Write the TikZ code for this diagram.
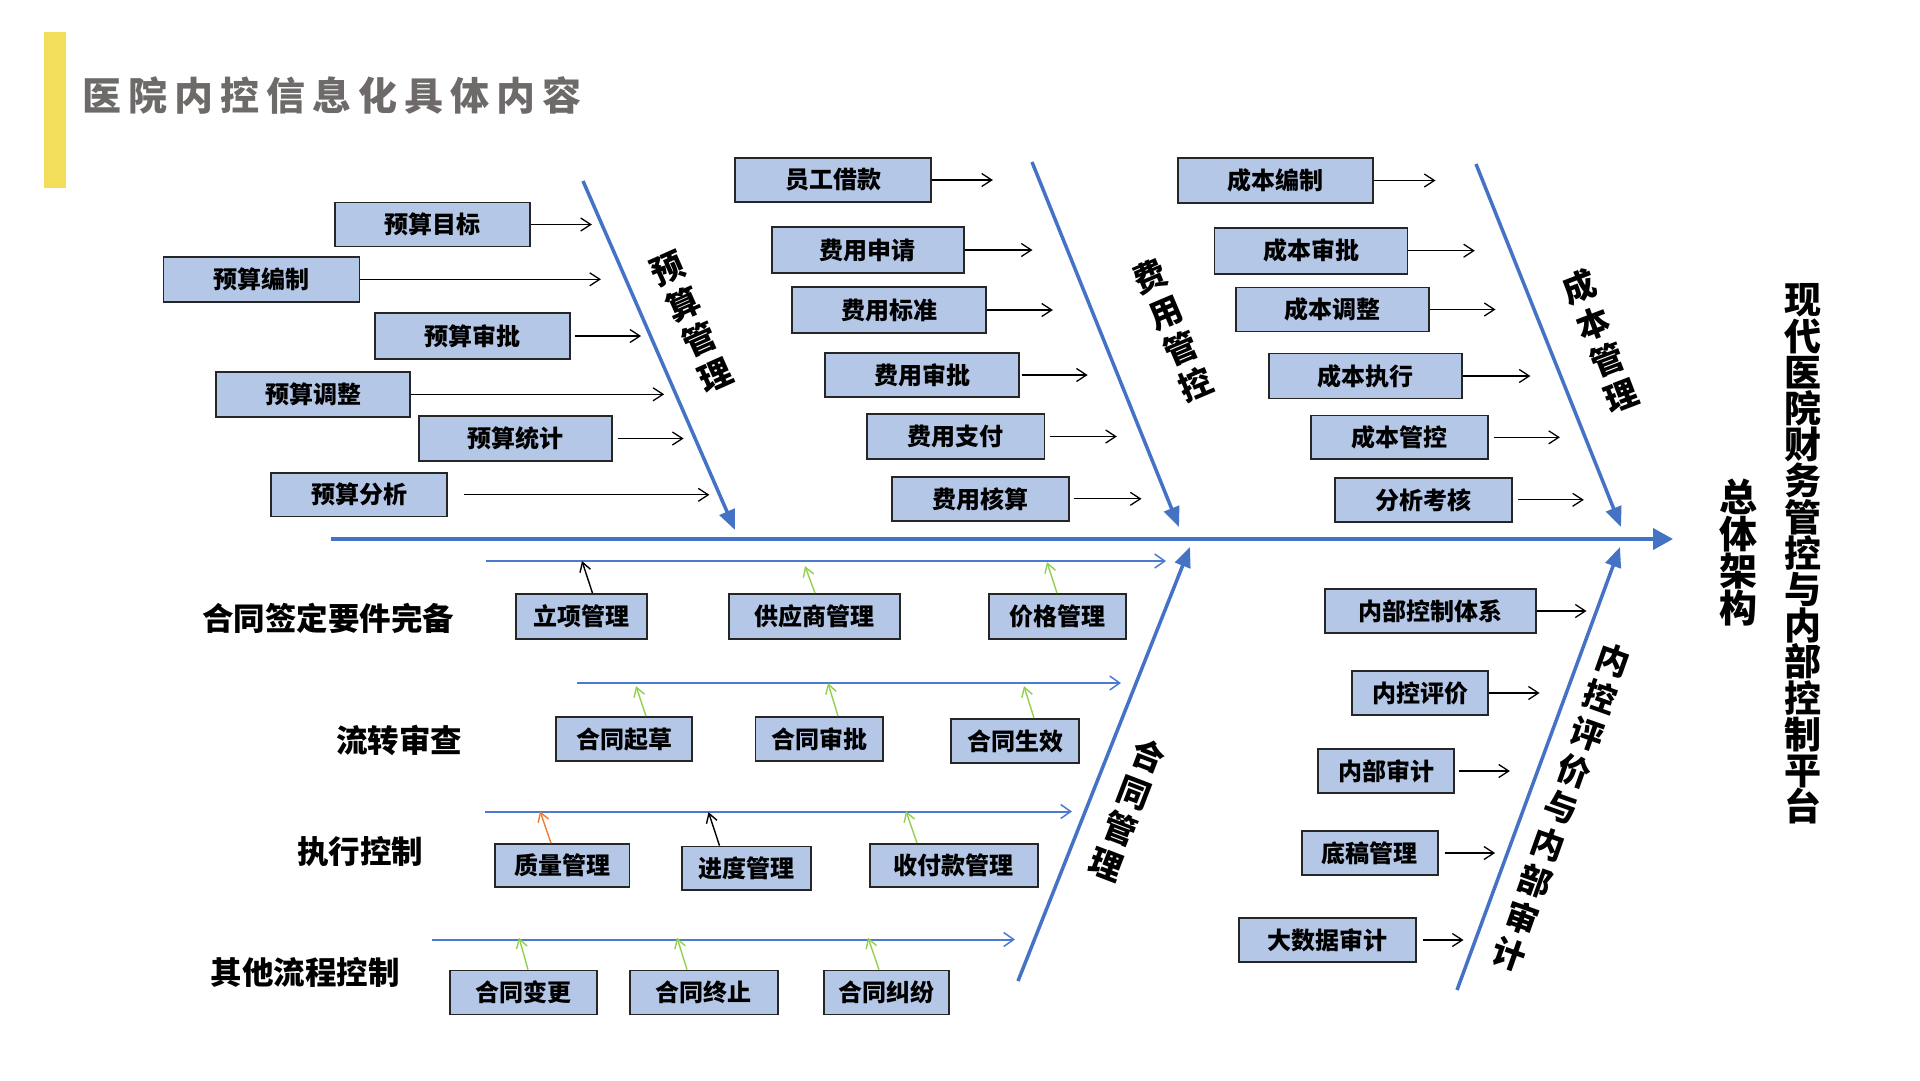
\documentclass[tikz,border=0pt]{standalone}
\usepackage{fontspec}
\setmainfont{Noto Sans CJK SC}
\usetikzlibrary{arrows.meta}
\definecolor{boxfill}{HTML}{B4C7E7}
\definecolor{boxline}{HTML}{262626}
\definecolor{bone}{HTML}{4472C4}
\definecolor{rowblue}{HTML}{4A7BD0}
\definecolor{ugreen}{HTML}{92D050}
\definecolor{uorange}{HTML}{ED7D31}
\definecolor{titlegray}{HTML}{6E6A6A}
\definecolor{barYellow}{HTML}{F2DE5A}
\tikzset{
  box/.style={draw=boxline, fill=boxfill, line width=1.8pt, inner sep=0pt,
    font=\bfseries\fontsize{24}{28}\selectfont},
  bonearrow/.style={draw=bone, line width=3.5pt, -{Triangle[length=20pt,width=16pt]}},
  spinearrow/.style={draw=bone, line width=4pt, -{Triangle[length=20pt,width=21pt]}},
  harrow/.style={draw=black, line width=1.3pt, -{Straight Barb[length=10pt,width=13pt,line width=1.3pt]}},
  rowarrow/.style={draw=rowblue, line width=2pt, -{Straight Barb[length=10pt,width=14pt,line width=1.5pt]}},
  uarrow/.style={line width=1.4pt, -{Straight Barb[length=9pt,width=11pt,line width=1.4pt]}},
  bonetext/.style={font=\bfseries\fontsize{33}{39}\selectfont, align=center, inner sep=0pt},
  rowlabel/.style={font=\bfseries\fontsize{31.5}{36}\selectfont, inner sep=0pt},
}
\newcommand\mybox[6]{\node[box, minimum width=#4pt, minimum height=#5pt] (#1) at (#2,#3) {#6};}
\newcommand\rarr[3]{\draw[harrow] ([xshift=#2pt]#1.east) -- ++(#3,0);}
\newcommand\uarr[5]{\draw[uarrow,draw=#1] ([xshift=#3pt]#2.north) -- ++(#4,#5);}
\begin{document}
\begin{tikzpicture}[x=1pt,y=-1pt]
\useasboundingbox (0,0) rectangle (1920,1080);
\fill[white] (0,0) rectangle (1920,1080);

% title
\fill[barYellow] (44,32) rectangle (65.5,188);
\node[anchor=west, inner sep=0pt, text=titlegray, font=\bfseries\fontsize{39}{44}\selectfont] (title) at (82,95)
  {医\kern7pt 院\kern7pt 内\kern7pt 控\kern7pt 信\kern7pt 息\kern7pt 化\kern7pt 具\kern7pt 体\kern7pt 内\kern7pt 容};

% spine and bones
\coordinate (sps) at (331,539);
\coordinate (spe) at (1673,539);
\draw[spinearrow] (sps) -- (spe);
\coordinate (b1s) at (583,181);  \coordinate (b1e) at (735,530);
\coordinate (b2s) at (1032,162); \coordinate (b2e) at (1179,527);
\coordinate (b3s) at (1476,164); \coordinate (b3e) at (1621,527);
\coordinate (b4s) at (1018,981); \coordinate (b4e) at (1190,547);
\coordinate (b5s) at (1457,990); \coordinate (b5e) at (1620,547);
\draw[bonearrow] (b1s) -- (b1e);
\draw[bonearrow] (b2s) -- (b2e);
\draw[bonearrow] (b3s) -- (b3e);
\draw[bonearrow] (b4s) -- (b4e);
\draw[bonearrow] (b5s) -- (b5e);

% bone labels
\node[bonetext, rotate=24] (t1) at (691.5,322) {预\\算\\管\\理};
\node[bonetext, rotate=23] (t2) at (1173,330) {费\\用\\管\\控};
\node[bonetext, rotate=21] (t3) at (1600,341) {成\\本\\管\\理};
\node[bonetext, rotate=-21] (t4) at (1127.5,810) {合\\同\\管\\理};
\node[bonetext, rotate=-19.5] (t5) at (1561.5,807.5) {内\\控\\评\\价\\与\\内\\部\\审\\计};

% right titles
\node[font=\bfseries\fontsize{38}{37}\selectfont, align=center, inner sep=0pt] (arch) at (1738,552.5) {总\\体\\架\\构};
\node[font=\bfseries\fontsize{37}{36.2}\selectfont, align=center, inner sep=0pt] (plat) at (1803,554) {现\\代\\医\\院\\财\\务\\管\\控\\与\\内\\部\\控\\制\\平\\台};

% budget column
\mybox{a1}{432.5}{224.5}{195}{44}{预算目标}
\mybox{a2}{261.5}{279.3}{196}{44.6}{预算编制}
\mybox{a3}{472.7}{336}{195}{46}{预算审批}
\mybox{a4}{313}{394.3}{194}{44.7}{预算调整}
\mybox{a5}{515.5}{438.5}{193}{45}{预算统计}
\mybox{a6}{359}{494.8}{176}{43.5}{预算分析}
\rarr{a1}{0}{61}
\rarr{a2}{0}{240.5}
\rarr{a3}{4}{66}
\rarr{a4}{0}{253.3}
\rarr{a5}{4.7}{66}
\rarr{a6}{16}{245.5}

% expense column
\mybox{e1}{833}{180}{196}{44.5}{员工借款}
\mybox{e2}{867.6}{250}{192}{46}{费用申请}
\mybox{e3}{889}{310}{194}{45.6}{费用标准}
\mybox{e4}{922}{375}{193.5}{44.7}{费用审批}
\mybox{e5}{955.7}{436.5}{177.5}{45}{费用支付}
\mybox{e6}{980.3}{498.8}{177.4}{43.6}{费用核算}
\rarr{e1}{0}{61}
\rarr{e2}{0}{68}
\rarr{e3}{0}{66}
\rarr{e4}{2}{66}
\rarr{e5}{4.5}{67}
\rarr{e6}{4}{67.6}

% cost column
\mybox{c1}{1275.5}{180.5}{195}{45}{成本编制}
\mybox{c2}{1311}{250.7}{193}{46}{成本审批}
\mybox{c3}{1332.3}{309.5}{193.4}{44}{成本调整}
\mybox{c4}{1365.5}{376}{193}{45}{成本执行}
\mybox{c5}{1399.5}{437.3}{177}{43.5}{成本管控}
\mybox{c6}{1423.4}{499.8}{177}{43.7}{分析考核}
\rarr{c1}{0}{61.6}
\rarr{c2}{0}{66.4}
\rarr{c3}{0}{65.6}
\rarr{c4}{0}{67.5}
\rarr{c5}{5}{66}
\rarr{c6}{5}{66}

% internal control column
\mybox{i1}{1430.3}{611}{210.6}{44}{内部控制体系}
\mybox{i2}{1420}{693}{136}{44}{内控评价}
\mybox{i3}{1386}{771}{136}{44.4}{内部审计}
\mybox{i4}{1369.6}{853}{136}{44}{底稿管理}
\mybox{i5}{1327.3}{940}{176.6}{44}{大数据审计}
\rarr{i1}{0}{50}
\rarr{i2}{0}{50.7}
\rarr{i3}{4}{51}
\rarr{i4}{6}{50.6}
\rarr{i5}{6}{41}

% contract rows
\node[rowlabel] (l1) at (328,618) {合同签定要件完备};
\node[rowlabel] (l2) at (399,740) {流转审查};
\node[rowlabel] (l3) at (360,852) {执行控制};
\node[rowlabel] (l4) at (305,972) {其他流程控制};

\coordinate (r1s) at (486,561);   \coordinate (r1e) at (1166,561);
\coordinate (r2s) at (577,683);   \coordinate (r2e) at (1121,683);
\coordinate (r3s) at (485,811.5); \coordinate (r3e) at (1072,811.5);
\coordinate (r4s) at (431.7,939.5); \coordinate (r4e) at (1015,939.5);
\draw[rowarrow] (r1s) -- (r1e);
\draw[rowarrow] (r2s) -- (r2e);
\draw[rowarrow] (r3s) -- (r3e);
\draw[rowarrow] (r4s) -- (r4e);

\mybox{k1}{581.5}{616.5}{131}{45}{立项管理}
\mybox{k2}{814.5}{616.5}{171}{45}{供应商管理}
\mybox{k3}{1057.5}{616.5}{137}{45}{价格管理}
\mybox{k4}{624}{739}{136}{44}{合同起草}
\mybox{k5}{819.3}{739}{127.5}{44}{合同审批}
\mybox{k6}{1015}{741}{128}{44}{合同生效}
\mybox{k7}{562.3}{865.5}{134.5}{43}{质量管理}
\mybox{k8}{746.3}{868.3}{129.4}{43.5}{进度管理}
\mybox{k9}{953.8}{865.5}{168.4}{43}{收付款管理}
\mybox{k10}{523.5}{992.5}{147}{44}{合同变更}
\mybox{k11}{703.6}{992.5}{148}{44}{合同终止}
\mybox{k12}{886.3}{992.5}{125.4}{44}{合同纠纷}

\uarr{black}{k1}{11}{-10.5}{-32}
\uarr{ugreen}{k2}{0.5}{-10}{-27}
\uarr{ugreen}{k3}{-0.5}{-10}{-31}
\uarr{ugreen}{k4}{22}{-10}{-30}
\uarr{ugreen}{k5}{18.7}{-10}{-33}
\uarr{ugreen}{k6}{19}{-10}{-32}
\uarr{uorange}{k7}{-11.3}{-11}{-32}
\uarr{black}{k8}{-26.8}{-11}{-33.5}
\uarr{ugreen}{k9}{-36.8}{-11}{-32}
\uarr{ugreen}{k10}{4.5}{-9}{-32}
\uarr{ugreen}{k11}{-16.6}{-10}{-32}
\uarr{ugreen}{k12}{-7.3}{-11}{-32}
\end{tikzpicture}
\end{document}
